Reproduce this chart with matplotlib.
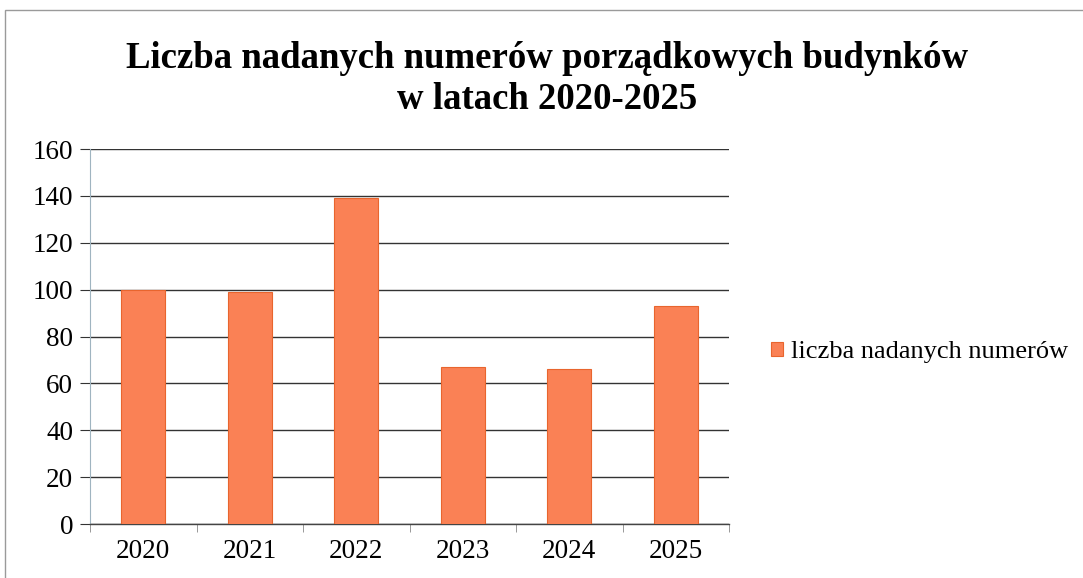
import numpy as np
import matplotlib.pyplot as plt
from matplotlib.patches import Rectangle, Patch

# Data
years = ["2020", "2021", "2022", "2023", "2024", "2025"]
counts = [100, 99, 139, 67, 66, 93]
series_name = "liczba nadanych numerów"
title = "Liczba nadanych numerów porządkowych budynków\nw latach 2020-2025"

plt.rcParams['font.family'] = ['Liberation Serif', 'DejaVu Serif']

fig = plt.figure(figsize=(10.83, 5.78), dpi=100)
ax = fig.add_axes([90 / 1083, 54 / 578, 639 / 1083, 375 / 578])

# Chart border (cut off at right and bottom as in the scan)
fig.patches.append(Rectangle((5 / 1083, -0.1), 1.2, 0.1 + (578 - 10) / 578,
                             transform=fig.transFigure, fill=False,
                             edgecolor='#9a9a9a', linewidth=1.0))

x = np.arange(len(years))
ax.bar(x, counts, width=0.41, color='#FA8155', edgecolor='#E8652E',
       linewidth=0.8, zorder=3)

ax.set_ylim(0, 160)
ax.set_xlim(-0.5, len(years) - 0.5)
ax.set_yticks(np.arange(0, 161, 20))
ax.yaxis.grid(True, color='#333333', linewidth=1.0, zorder=0)
ax.set_axisbelow(True)

ax.set_xticks(x)
ax.set_xticklabels(years)
ax.set_xticks(np.arange(-0.5, len(years)), minor=True)
ax.tick_params(axis='x', which='major', length=0, labelsize=19.5, pad=11)
ax.tick_params(axis='x', which='minor', length=6, color='#888888', direction='out')
ax.tick_params(axis='y', length=7, color='#333333', labelsize=19.5, pad=5)

for side in ['top', 'right']:
    ax.spines[side].set_visible(False)
ax.spines['left'].set_color('#9fb4c0')
ax.spines['bottom'].set_color('#444444')
ax.spines['bottom'].set_linewidth(1.0)

fig.text(0.505, 0.863, title, ha='center', va='center', fontsize=26.5,
         fontweight='bold', linespacing=1.2)

handle = Patch(facecolor='#FA8155', edgecolor='#E8652E', linewidth=0.8)
fig.legend([handle], [series_name], loc='center left',
           bbox_to_anchor=(771 / 1083, 1 - 352 / 578), frameon=False,
           borderaxespad=0, borderpad=0,
           fontsize=19, handlelength=0.45, handleheight=0.45, handletextpad=0.3)

fig.savefig('out.png', dpi=100)
